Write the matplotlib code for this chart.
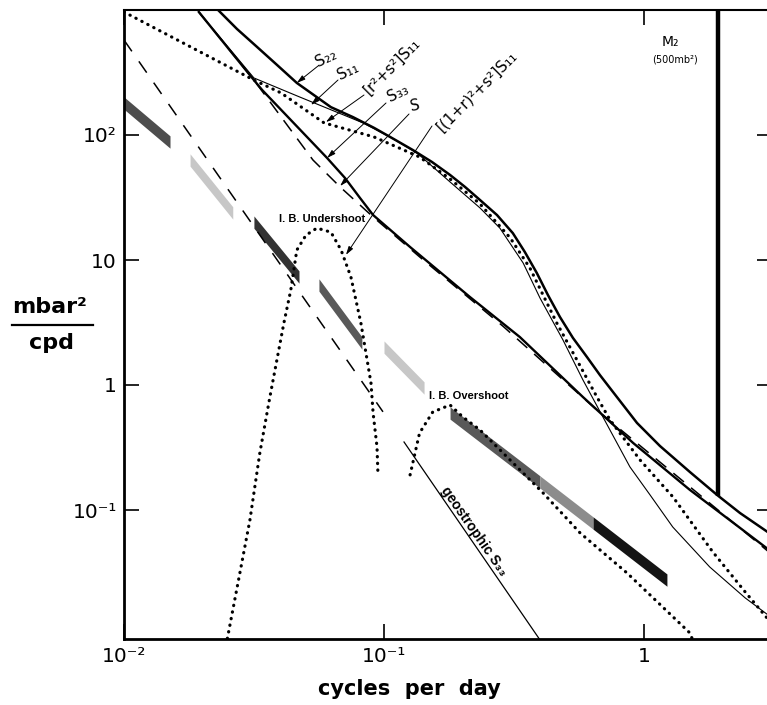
import matplotlib.pyplot as plt
from matplotlib.lines import Line2D

# spectra: frequency in cycles per day, level in mbar^2/cpd
s22_f = [0.0224, 0.0272, 0.0325, 0.0388, 0.0462, 0.0625, 0.076, 0.0916, 0.109, 0.129,
         0.153, 0.1795, 0.205, 0.234, 0.272, 0.313, 0.348, 0.387, 0.427, 0.475, 0.533,
         0.604, 0.677, 0.760, 0.940, 1.152, 1.503, 1.91, 2.34, 3.107]
s22 = [1057, 705, 506, 363, 261, 167, 139, 114, 92.9, 75.9, 60.8, 47.9, 38.4, 30.2,
       22.9, 16.4, 11.6, 7.87, 5.25, 3.50, 2.38, 1.67, 1.20, 0.879, 0.497, 0.325,
       0.201, 0.132, 0.0946, 0.0631]

s11_f = [0.0194, 0.0316, 0.0475, 0.083, 0.1054, 0.134, 0.1795, 0.234, 0.279, 0.343,
         0.398, 0.488, 0.582, 0.695, 0.883, 1.055, 1.29, 1.79, 2.45, 3.107]
s11 = [964, 286, 201, 125, 96.4, 71.8, 42.1, 26.1, 18.0, 9.46, 4.97, 2.29, 1.10, 0.555,
       0.221, 0.132, 0.0731, 0.035, 0.0198, 0.0137]

rs_f = [0.01, 0.0316, 0.0402, 0.0588, 0.0916, 0.137, 0.1795, 0.234, 0.306, 0.364, 0.409,
        0.462, 0.552, 0.659, 0.74, 0.966, 1.293, 1.84, 2.45, 3.107]
rs_s11 = [964, 275, 217, 125, 96.4, 66.7, 44.5, 28.1, 15.0, 8.63, 5.25, 3.13, 1.585,
          0.802, 0.525, 0.251, 0.127, 0.0461, 0.0221, 0.01225]

s33_f = [0.0194, 0.0316, 0.034, 0.0604, 0.0708, 0.0809, 0.0908, 0.126, 0.214, 0.333,
         0.582, 0.908, 1.50, 3.107]
s33 = [964, 275, 229, 65.5, 45.3, 31.3, 22.9, 12.7, 5.06, 2.42, 0.802, 0.344, 0.145,
       0.046]

s_f = [0.0194, 0.0316, 0.0533, 0.0678, 0.0908, 0.137, 0.287, 0.659, 3.107]
s_tot = [964, 275, 63.1, 38.4, 22.1, 10.6, 2.95, 0.63, 0.044]

steep_f = [0.01, 0.0991]
steep = [575, 0.61]

geo_f = [0.1194, 0.40]
geo_s33 = [0.35, 0.009]

under_f = [0.0247, 0.0279, 0.0305, 0.0333, 0.0364, 0.0412, 0.0438, 0.0462, 0.0501,
           0.0552, 0.0625, 0.0684, 0.0746, 0.0815, 0.0891, 0.0908, 0.094, 0.0948]
under = [0.0083, 0.0313, 0.0832, 0.286, 0.802, 3.13, 5.75, 12.0, 15.8, 18.0, 16.7,
         12.0, 7.31, 3.13, 1.04, 0.597, 0.319, 0.191]

over_f = [0.126, 0.137, 0.154, 0.1795, 0.201, 0.234, 0.409, 0.568, 0.861, 1.50, 1.54]
over = [0.191, 0.413, 0.608, 0.692, 0.555, 0.437, 0.137, 0.0655, 0.0313, 0.0104, 0.0091]

# observed spectrum segments (stippled bands): start/end frequency and level
band_f0 = [0.01, 0.01795, 0.0316, 0.0562, 0.1, 0.1795, 0.398, 0.637]
band_f1 = [0.01503, 0.0262, 0.0471, 0.0822, 0.1426, 0.398, 0.637, 1.225]
band_s0 = [180, 63.1, 20.1, 6.31, 2.01, 0.597, 0.1675, 0.0787]
band_s1 = [87.9, 23.8, 7.31, 2.17, 0.946, 0.1675, 0.0787, 0.0275]
band_shade = ['0.3', '0.78', '0.2', '0.35', '0.78', '0.35', '0.55', '0.08']

m2_f = 1.93
m2_base = 0.13

W, H = 767, 705
fig = plt.figure(figsize=(W / 100, H / 100), dpi=100)
ax = fig.add_axes([124 / W, 66 / H, (772 - 124) / W, (695 - 66) / H])
ax.set_xscale('log')
ax.set_yscale('log')
ax.set_xlim(0.01, 10 ** 0.4923)
ax.set_ylim(10 ** -2.032, 1000)

dots = dict(color='k', lw=2.3, linestyle=(0, (0.1, 2.0)), dash_capstyle='round')

for f0, f1, a, b, c in zip(band_f0, band_f1, band_s0, band_s1, band_shade):
    k = 1.12
    ax.fill_between([f0, f1], [a * k, b * k], [a / k, b / k], color=c, lw=0)

ax.plot(s22_f, s22, color='k', lw=1.8)
ax.plot(s11_f, s11, color='k', lw=0.8)
ax.plot(rs_f, rs_s11, **dots)
ax.plot(s33_f, s33, color='k', lw=1.7)
ax.plot(s_f, s_tot, color='k', lw=1.1, linestyle=(0, (9, 6)))
ax.plot(steep_f, steep, color='k', lw=1.1, linestyle=(0, (9, 8)))
ax.plot(geo_f, geo_s33, color='k', lw=0.9)
ax.plot(under_f, under, **dots)
ax.plot(over_f, over, **dots)
ax.plot([m2_f, m2_f], [m2_base, 2000], color='k', lw=3.2, solid_capstyle='butt')

# axes frame and ticks
for side in ['left', 'bottom']:
    ax.spines[side].set_linewidth(2.0)
for side in ['top', 'right']:
    ax.spines[side].set_linewidth(1.5)
ax.minorticks_off()
ax.set_xticks([0.01, 0.1, 1])
ax.set_xticklabels(['10⁻²', '10⁻¹', '1'])
ax.set_yticks([0.1, 1, 10, 100])
ax.set_yticklabels(['10⁻¹', '1', '10', '10²'])
ax.tick_params(axis='both', which='major', direction='in', length=11, width=1.2,
               labelsize=14.5, top=True, right=True, pad=6)
ax.tick_params(axis='y', pad=5)


def px(x, y):
    return (x / W, 1 - y / H)


# curve labels with leaders
labels = [
    ('S₂₂', (326, 58), 25, (318, 66), (0.0462, 261)),
    ('S₁₁', (348, 71), 25, (338, 80), (0.0524, 174)),
    ('[r²+s²]S₁₁', (392, 66), 45, (364, 95), (0.0598, 127)),
    ('S₃₃', (398, 93), 25, (386, 103), (0.0604, 65.5)),
    ('S', (415, 106), 10, (409, 114), (0.0678, 39.1)),
    ('[(1+r)²+s²]S₁₁', (477, 91), 45, (432, 126), (0.0714, 11.0)),
]
for txt, pos, rot, start, tip in labels:
    fig.text(*px(*pos), txt, fontsize=11, rotation=rot, ha='center', va='center')
    ax.annotate('', xy=tip, xycoords='data', xytext=px(*start),
                textcoords='figure fraction',
                arrowprops=dict(arrowstyle='-|>,head_length=0.5,head_width=0.15',
                                color='k', lw=0.7, shrinkA=0, shrinkB=0))

fig.text(*px(322, 219), 'I. B. Undershoot', fontsize=8, fontweight='bold',
         family='Liberation Sans', ha='center', va='center')
fig.text(*px(469, 396), 'I. B. Overshoot', fontsize=8, fontweight='bold',
         family='Liberation Sans', ha='center', va='center')
fig.text(*px(474, 531), 'geostrophic S₃₃', fontsize=10, fontweight='bold',
         family='Liberation Sans', rotation=-55, ha='center', va='center')
fig.text(*px(670, 42), 'M₂', fontsize=10, ha='center', va='center')
fig.text(*px(675, 59), '(500mb²)', fontsize=7, ha='center', va='center')

# axis titles
fig.text(*px(50, 307), 'mbar²', fontsize=16, fontweight='bold', ha='center', va='center')
fig.add_artist(Line2D([12 / W, 93 / W], [1 - 325 / H, 1 - 325 / H], color='k', lw=1.6))
fig.text(*px(52, 343), 'cpd', fontsize=16, fontweight='bold', ha='center', va='center')
fig.text(*px(409, 689), 'cycles  per  day', fontsize=15, fontweight='bold',
         ha='center', va='center')

fig.savefig('out.png', dpi=100)
